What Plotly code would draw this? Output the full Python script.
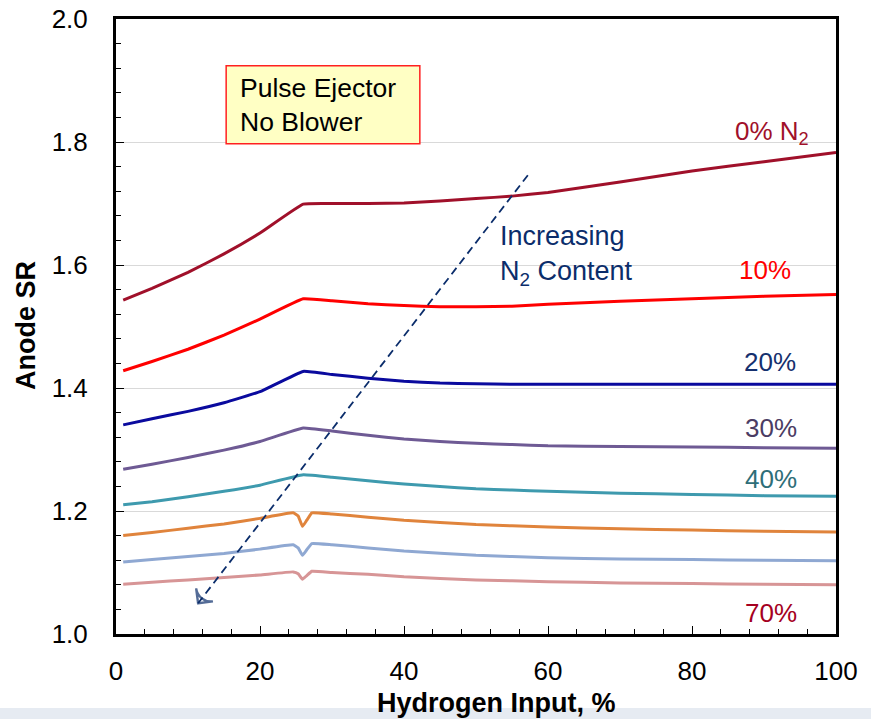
import plotly.graph_objects as go

# ---- data ----
x_smooth = [1, 5, 10, 15, 20, 26, 30, 35, 40, 45, 50, 55, 60, 70, 80, 90, 100]
sr_0 = [1.543, 1.562, 1.588, 1.618, 1.652, 1.699, 1.700, 1.700, 1.701, 1.704, 1.708, 1.712, 1.718, 1.735, 1.753, 1.768, 1.783]
sr_10 = [1.428, 1.443, 1.463, 1.486, 1.512, 1.545, 1.542, 1.537, 1.534, 1.532, 1.532, 1.533, 1.536, 1.541, 1.545, 1.549, 1.552]
sr_20 = [1.340, 1.350, 1.362, 1.376, 1.394, 1.427, 1.422, 1.416, 1.411, 1.408, 1.407, 1.406, 1.406, 1.406, 1.406, 1.406, 1.406]
sr_30 = [1.268, 1.276, 1.287, 1.299, 1.313, 1.335, 1.330, 1.323, 1.317, 1.313, 1.310, 1.308, 1.306, 1.305, 1.304, 1.303, 1.302]
sr_40 = [1.210, 1.215, 1.223, 1.232, 1.242, 1.259, 1.255, 1.249, 1.244, 1.240, 1.236, 1.234, 1.232, 1.229, 1.227, 1.225, 1.224]

x_dip = [1, 5, 10, 15, 20, 24.6, 25.3, 25.9, 26.5, 27.2, 30, 35, 40, 50, 60, 70, 80, 90, 100]
sr_50 = [1.160, 1.165, 1.172, 1.179, 1.188, 1.197, 1.192, 1.175, 1.185, 1.197, 1.195, 1.190, 1.185, 1.178, 1.174, 1.171, 1.169, 1.167, 1.166]
sr_60 = [1.117, 1.121, 1.126, 1.131, 1.138, 1.145, 1.140, 1.128, 1.137, 1.147, 1.145, 1.140, 1.135, 1.128, 1.124, 1.122, 1.121, 1.120, 1.119]
sr_70 = [1.081, 1.084, 1.088, 1.092, 1.096, 1.101, 1.098, 1.089, 1.095, 1.102, 1.100, 1.097, 1.093, 1.088, 1.085, 1.083, 1.082, 1.081, 1.080]

series_names = ["0%", "10%", "20%", "30%", "40%", "50%", "60%", "70%"]
series_x = [x_smooth] * 5 + [x_dip] * 3
series_y = [sr_0, sr_10, sr_20, sr_30, sr_40, sr_50, sr_60, sr_70]
line_colors = ["#A0102A", "#FF0000", "#0A0A9E", "#6E5A94", "#3E9AAE", "#E0843C", "#8FA8D2", "#D79596"]

label_texts = ["0% N<sub>2</sub>", "10%", "20%", "30%", "40%", "70%"]
label_y = [1.815, 1.592, 1.442, 1.335, 1.252, 1.034]
label_x = [96.5, 94.0, 94.7, 94.9, 94.9, 94.9]
label_colors = ["#A0102A", "#FF0000", "#15306E", "#4B3C63", "#2E6E78", "#A50021"]

# trend arrow (increasing N2 content), start -> end in data units
arrow_x = [57.2, 11.4]
arrow_y = [1.746, 1.050]

FONT = "Liberation Sans, Arial, sans-serif"
NAVY = "#0B2D6B"

fig = go.Figure()
for name, xs, ys, c in zip(series_names, series_x, series_y, line_colors):
    fig.add_trace(go.Scatter(x=xs, y=ys, mode="lines", name=name,
                             line=dict(color=c, width=3, shape="spline", smoothing=0.3),
                             showlegend=False, hoverinfo="skip"))

fig.add_trace(go.Scatter(x=arrow_x, y=arrow_y, mode="lines+markers", showlegend=False, hoverinfo="skip",
                         line=dict(color=NAVY, width=1.8, dash="8px,5px"),
                         marker=dict(symbol=["circle", "arrow-wide-open"], size=[0, 15], angleref="previous",
                                     color=NAVY, line=dict(color=NAVY, width=2.4))))

for t, xx, yy, c in zip(label_texts, label_x, label_y, label_colors):
    fig.add_annotation(x=xx, y=yy, text=t, showarrow=False, xanchor="right", yanchor="middle",
                       font=dict(family=FONT, size=26, color=c))

fig.add_annotation(x=53.0, y=1.615, text="Increasing<br>N<sub>2</sub> Content", showarrow=False,
                   xanchor="left", yanchor="middle", align="left",
                   font=dict(family=FONT, size=27, color=NAVY))

# Pulse ejector box
fig.add_shape(type="rect", x0=15.3, x1=42.2, y0=1.797, y1=1.924,
              line=dict(color="#FF2020", width=1.5), fillcolor="#FFFFC4", layer="above")
fig.add_annotation(x=17.0, y=1.8605, text="Pulse Ejector<br>No Blower", showarrow=False,
                   xanchor="left", yanchor="middle", align="left",
                   font=dict(family=FONT, size=26.5, color="black"))

# axis titles
fig.add_annotation(xref="paper", yref="paper", x=0.528, y=-0.112, text="<b>Hydrogen Input, %</b>",
                   showarrow=False, xanchor="center", yanchor="middle",
                   font=dict(family=FONT, size=27, color="black"))
fig.add_annotation(xref="paper", yref="paper", x=-0.124, y=0.502, text="<b>Anode SR</b>", textangle=-90,
                   showarrow=False, xanchor="center", yanchor="middle",
                   font=dict(family=FONT, size=27, color="black"))

# bottom slide band
fig.add_shape(type="rect", xref="paper", yref="paper", x0=-0.2, x1=1.1, y0=-0.145, y1=-0.1203,
              line=dict(width=0), fillcolor="#E6EBF2", layer="below")

fig.update_layout(
    width=871, height=719,
    margin=dict(l=116, r=35, t=19, b=85, autoexpand=False),
    plot_bgcolor="white", paper_bgcolor="white",
    font=dict(family=FONT, size=20, color="black"),
    xaxis=dict(range=[0, 100], dtick=20, tick0=0, showgrid=False, zeroline=False, automargin=False,
               showline=True, linecolor="black", linewidth=3, mirror=True,
               ticks="inside", ticklen=8, tickwidth=1, tickcolor="black",
               minor=dict(dtick=4, ticks="inside", ticklen=5, tickcolor="black"),
               tickfont=dict(family=FONT, size=26), ticklabelstandoff=12,
               ticklabeloverflow="allow"),
    yaxis=dict(range=[1.0, 2.0], dtick=0.2, tick0=1.0, tickformat=".1f", automargin=False,
               showgrid=True, gridcolor="#D9D9D9", gridwidth=1, zeroline=False,
               showline=True, linecolor="black", linewidth=3, mirror=True,
               ticks="inside", ticklen=8, tickwidth=1, tickcolor="black",
               minor=dict(dtick=0.04, ticks="inside", ticklen=5, tickcolor="black", showgrid=False),
               tickfont=dict(family=FONT, size=26), ticklabelstandoff=20,
               ticklabeloverflow="allow"),
)

fig.write_html("out.html", config={"displayModeBar": False},
               post_script="document.body.style.margin='0px';")
